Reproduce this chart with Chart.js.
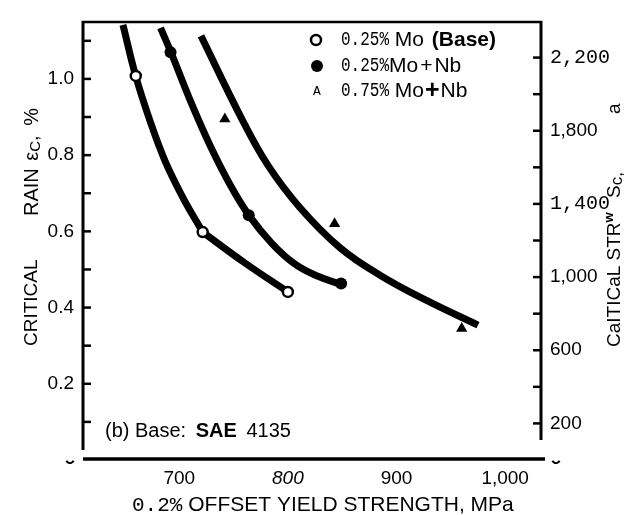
<!DOCTYPE html>
<html><head><meta charset="utf-8">
<script src="https://cdn.jsdelivr.net/npm/chart.js@4/dist/chart.umd.min.js"></script>
<style>html,body{margin:0;padding:0;background:#fff;}canvas{display:block;}</style>
</head><body>
<canvas id="c" width="626" height="515"></canvas>
<script>
// ---- data ----
const baseYield = [660, 721.6, 800];
const baseStrain = [1.008, 0.598, 0.441];
const nbYield = [692, 764, 849];
const nbStrain = [1.07, 0.642, 0.463];
const mo75Yield = [742, 843, 960];
const mo75Strain = [0.895, 0.62, 0.345];

const baseCurveUpperYield = [648.2, 659.9, 673.1, 686.9, 703.5, 721.6];
const baseCurveUpperStrain = [1.142, 1.008, 0.890, 0.785, 0.688, 0.598];
const baseCurveLowerYield = [721.6, 761.5, 800.1];
const baseCurveLowerStrain = [0.598, 0.515, 0.441];
const nbCurveYield = [682.8, 692.4, 709.9, 728.3, 746.7, 764.2, 785.4, 806.6, 827.7, 848.9];
const nbCurveStrain = [1.134, 1.070, 0.945, 0.826, 0.723, 0.642, 0.568, 0.514, 0.482, 0.461];
const mo75CurveYield = [720.0, 757.8, 781.7, 811.2, 848.0, 884.8, 928.1, 975.0];
const mo75CurveStrain = [1.113, 0.894, 0.773, 0.662, 0.557, 0.485, 0.418, 0.354];

const xTickValues = [700, 800, 900, 1000];
const xTickLabels = ['700', '800', '900', '1,000'];
const strainTickValues = [0.2, 0.4, 0.6, 0.8, 1.0];
const strainTickLabels = ['0.2', '0.4', '0.6', '0.8', '1.0'];
const strainMarkValues = [0.1, 0.2, 0.3, 0.4, 0.5, 0.6, 0.7, 0.8, 0.9, 1.0, 1.1];
const stressTickValues = [200, 600, 1000, 1400, 1800, 2200];
const stressTickLabels = ['200', '600', '1,000', '1,400', '1,800', '2,200'];
const stressMarkValues = [200, 400, 600, 800, 1000, 1200, 1400, 1600, 1800, 2000, 2200];

const pts = (xs, ys) => xs.map((x, i) => ({x: x, y: ys[i]}));

const SANS = 'Liberation Sans';
const MONO = 'Liberation Mono';
const f = (size, fam, weight, style) => (style || '') + ' ' + (weight || '') + ' ' + size + 'px "' + fam + '"';

function line(ctx, x1, y1, x2, y2) { ctx.beginPath(); ctx.moveTo(x1, y1); ctx.lineTo(x2, y2); ctx.stroke(); }
function drawSegs(ctx, x, y, segs) {
  for (const s of segs) {
    ctx.font = s.font;
    const sx = s.sx || 1;
    ctx.save();
    ctx.translate(x, y + (s.dy || 0));
    ctx.scale(sx, 1);
    ctx.fillText(s.t, 0, 0);
    ctx.restore();
    x += ctx.measureText(s.t).width * sx + (s.gap || 0);
  }
  return x;
}

const decor = {
  id: 'decor',
  beforeDatasetsDraw(chart) {
    const {ctx, chartArea: a, scales} = chart;
    const yL = scales.y, yR = scales.y2;
    ctx.save();
    ctx.strokeStyle = '#000';
    ctx.lineCap = 'butt';
    ctx.lineWidth = 2.5;
    line(ctx, a.left, a.top + 1, a.right + 1, a.top + 1);
    ctx.lineWidth = 3;
    line(ctx, a.left + 1, a.top, a.left + 1, a.bottom - 10);
    line(ctx, a.right, a.top, a.right, a.bottom - 20);
    ctx.lineWidth = 3.5;
    line(ctx, a.left + 1, a.bottom - 1, a.right + 4, a.bottom - 1);
    ctx.lineWidth = 2.5;
    strainMarkValues.forEach(v => { const p = yL.getPixelForValue(v); line(ctx, a.left + 1, p, a.left + 9, p); });
    stressMarkValues.forEach(v => { const p = yR.getPixelForValue(v); line(ctx, a.right, p, a.right - 8, p); });
    // small scan marks at the ends of the x axis
    ctx.lineWidth = 2;
    ctx.beginPath(); ctx.arc(a.left - 12, a.bottom - 1, 4, 0.15 * Math.PI, 0.85 * Math.PI); ctx.stroke();
    ctx.beginPath(); ctx.arc(a.right + 15, a.bottom - 1, 4, 0.15 * Math.PI, 0.85 * Math.PI); ctx.stroke();
    ctx.restore();
  },
  afterDraw(chart) {
    const {ctx} = chart;
    ctx.save();
    ctx.fillStyle = '#000';
    ctx.textBaseline = 'middle';
    ctx.textAlign = 'left';
    // x title
    drawSegs(ctx, 132, 505, [{t: '0.2%', font: f(21, MONO)}, {t: ' OFFSET YIELD STRENGTH, MPa', font: f(21, SANS)}]);
    // annotation
    drawSegs(ctx, 105, 431, [{t: '(b) Base: ', font: f(20, SANS), gap: 4}, {t: 'SAE', font: f(20, SANS, 'bold'), gap: 4}, {t: ' 4135', font: f(20, SANS)}]);
    // legend
    ctx.lineWidth = 2.5; ctx.strokeStyle = '#000';
    ctx.beginPath(); ctx.arc(316, 40, 5, 0, 2 * Math.PI); ctx.fillStyle = '#fff'; ctx.fill(); ctx.stroke();
    ctx.fillStyle = '#000';
    ctx.beginPath(); ctx.arc(317, 66, 6, 0, 2 * Math.PI); ctx.fill();
    ctx.font = f(13, MONO); ctx.textAlign = 'center'; ctx.fillText('A', 317, 92);
    ctx.textAlign = 'left';
    drawSegs(ctx, 341, 40, [{t: '0.25%', font: f(20, MONO), sx: 0.8}, {t: ' Mo ', font: f(21, SANS), gap: 2}, {t: '(Base)', font: f(21, SANS, 'bold')}]);
    drawSegs(ctx, 341, 66, [{t: '0.25%', font: f(20, MONO), sx: 0.8}, {t: 'Mo', font: f(21, SANS), gap: 2}, {t: '+', font: f(21, SANS), gap: 2}, {t: 'Nb', font: f(21, SANS)}]);
    drawSegs(ctx, 341, 91, [{t: '0.75%', font: f(20, MONO), sx: 0.8}, {t: ' Mo', font: f(21, SANS), gap: 1}, {t: '+', font: f(25, SANS, 'bold'), gap: 1}, {t: 'Nb', font: f(21, SANS)}]);
    // left title
    ctx.save();
    ctx.translate(32, 0); ctx.rotate(-Math.PI / 2);
    drawSegs(ctx, -346, 0, [{t: 'CRITICAL', font: f(19, SANS)}]);
    drawSegs(ctx, -216, 0, [{t: 'RAIN ', font: f(20, SANS), gap: 2}, {t: '\u03b5', font: f(20, SANS)}, {t: 'C', font: f(15, SANS), dy: 4}, {t: ', ', font: f(20, SANS), gap: 4}, {t: '%', font: f(20, SANS)}]);
    ctx.restore();
    // right title
    ctx.save();
    ctx.translate(615, 0); ctx.rotate(-Math.PI / 2);
    drawSegs(ctx, -347, 0, [{t: 'CaITICaL STR', font: f(19, SANS)}, {t: 'w', font: f(13, SANS, 'bold'), dy: -6}]);
    drawSegs(ctx, -198, 0, [{t: 'S', font: f(19, SANS)}, {t: 'c,', font: f(17, SANS), dy: 2}]);
    drawSegs(ctx, -114, 0, [{t: 'a', font: f(19, SANS)}]);
    ctx.restore();
    ctx.restore();
  }
};

const curveStyle = {type: 'line', borderColor: '#000', borderWidth: 7, pointRadius: 0, tension: 0.4, fill: false, order: 2, yAxisID: 'y', xAxisID: 'x'};

new Chart(document.getElementById('c'), {
  type: 'scatter',
  data: {
    datasets: [
      Object.assign({label: '0.25% Mo (Base) curve', data: pts(baseCurveUpperYield, baseCurveUpperStrain)}, curveStyle),
      Object.assign({label: '0.25% Mo (Base) curve, lower part', data: pts(baseCurveLowerYield, baseCurveLowerStrain)}, curveStyle),
      Object.assign({label: '0.25% Mo + Nb curve', data: pts(nbCurveYield, nbCurveStrain)}, curveStyle),
      Object.assign({label: '0.75% Mo + Nb curve', data: pts(mo75CurveYield, mo75CurveStrain)}, curveStyle),
      {label: '0.25% Mo (Base)', data: pts(baseYield, baseStrain), pointStyle: 'circle', pointRadius: 5, backgroundColor: '#fff', borderColor: '#000', borderWidth: 2.5, order: 1, yAxisID: 'y'},
      {label: '0.25% Mo + Nb', data: pts(nbYield, nbStrain), pointStyle: 'circle', pointRadius: 6, backgroundColor: '#000', borderColor: '#000', borderWidth: 0, order: 1, yAxisID: 'y'},
      {label: '0.75% Mo + Nb', data: pts(mo75Yield, mo75Strain), pointStyle: 'triangle', pointRadius: 6.5, backgroundColor: '#000', borderColor: '#000', borderWidth: 0, order: 1, yAxisID: 'y'}
    ]
  },
  options: {
    responsive: false, animation: false, devicePixelRatio: 1,
    layout: {padding: {top: 13, left: 0, right: 0, bottom: 0}},
    plugins: {legend: {display: false}, tooltip: {enabled: false}},
    scales: {
      x: {
        type: 'linear', position: 'bottom', min: 610.5, max: 1033,
        afterBuildTicks: s => { s.ticks = xTickValues.map(v => ({value: v})); },
        afterFit: s => { s.height = 55; },
        grid: {display: false, drawTicks: false}, border: {display: false},
        ticks: {padding: 7, color: '#000', maxRotation: 0, autoSkip: false,
          font: c => ({family: SANS, size: 19, style: (c.tick && c.tick.value === 800) ? 'italic' : 'normal'}),
          callback: (v, i) => xTickLabels[i]}
      },
      y: {
        type: 'linear', position: 'left', min: 0, max: 1.152,
        afterBuildTicks: s => { s.ticks = strainTickValues.map(v => ({value: v})); },
        afterFit: s => { s.width = 82; },
        grid: {display: false, drawTicks: false}, border: {display: false},
        ticks: {padding: 8, color: '#000', autoSkip: false, font: {family: SANS, size: 19},
          callback: (v, i) => strainTickLabels[i]}
      },
      y2: {
        type: 'linear', position: 'right', min: 0, max: 2400,
        afterBuildTicks: s => { s.ticks = stressTickValues.map(v => ({value: v})); },
        afterFit: s => { s.width = 85; },
        grid: {display: false, drawTicks: false}, border: {display: false},
        ticks: {padding: 9, color: '#000', autoSkip: false,
          font: c => (c.tick && (c.tick.value === 2200 || c.tick.value === 1400)) ? {family: MONO, size: 20} : {family: SANS, size: 19},
          callback: (v, i) => stressTickLabels[i]}
      }
    }
  },
  plugins: [decor]
});
</script>
</body></html>
